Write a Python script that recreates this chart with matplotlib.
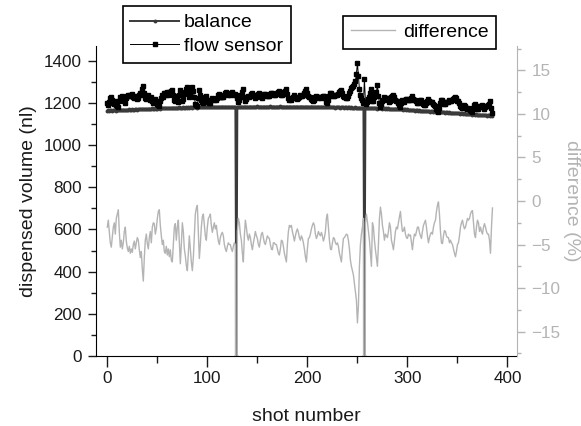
import numpy as np
import matplotlib
matplotlib.use("Agg")
import matplotlib.pyplot as plt
from matplotlib.ticker import MultipleLocator

plt.rcParams['font.family'] = ['Liberation Sans', 'DejaVu Sans']

# balance (nl), one value per shot; 0 where a reading was lost
balance = [
    1163, 1165, 1164, 1166, 1165, 1163, 1166, 1167, 1165, 1164, 1166, 1168, 1166, 1165, 1167, 1166, 1168, 1167, 1165, 1167,
    1168, 1166, 1169, 1167, 1168, 1170, 1168, 1167, 1169, 1170, 1168, 1170, 1171, 1169, 1170, 1172, 1170, 1169, 1171, 1172,
    1170, 1172, 1173, 1171, 1172, 1174, 1172, 1173, 1175, 1173, 1172, 1174, 1175, 1173, 1175, 1176, 1174, 1175, 1177, 1175,
    1176, 1174, 1177, 1176, 1175, 1177, 1178, 1176, 1177, 1178, 1176, 1178, 1179, 1177, 1178, 1177, 1179, 1178, 1176, 1179,
    1178, 1180, 1178, 1179, 1180, 1178, 1179, 1181, 1179, 1180, 1178, 1180, 1181, 1179, 1180, 1182, 1180, 1179, 1181, 1180,
    1179, 1181, 1180, 1182, 1180, 1179, 1181, 1182, 1180, 1181, 1179, 1181, 1182, 1180, 1181, 1183, 1181, 1180, 1182, 1181,
    1180, 1182, 1181, 1179, 1181, 1182, 1180, 1181, 1182, 0, 1181, 1180, 1182, 1181, 1183, 1181, 1180, 1182, 1183, 1181,
    1182, 1180, 1181, 1183, 1182, 1180, 1182, 1183, 1181, 1182, 1184, 1182, 1181, 1183, 1182, 1180, 1182, 1183, 1181, 1182,
    1183, 1181, 1182, 1184, 1182, 1181, 1183, 1182, 1180, 1182, 1183, 1181, 1182, 1184, 1182, 1181, 1183, 1182, 1180, 1182,
    1183, 1181, 1182, 1183, 1181, 1180, 1182, 1183, 1181, 1182, 1183, 1181, 1180, 1182, 1183, 1181, 1182, 1180, 1181, 1183,
    1181, 1182, 1180, 1181, 1183, 1182, 1180, 1181, 1182, 1180, 1181, 1183, 1181, 1180, 1182, 1181, 1179, 1181, 1182, 1180,
    1181, 1179, 1180, 1182, 1180, 1179, 1181, 1180, 1178, 1180, 1181, 1179, 1180, 1178, 1179, 1181, 1179, 1178, 1180, 1179,
    1178, 1180, 1179, 1177, 1179, 1178, 1176, 1178, 1179, 1177, 1178, 1176, 1178, 1177, 1175, 1177, 1178, 0, 1176, 1177,
    1175, 1177, 1176, 1174, 1176, 1177, 1175, 1174, 1176, 1175, 1173, 1175, 1176, 1174, 1175, 1173, 1174, 1175, 1173, 1174,
    1172, 1174, 1173, 1171, 1173, 1172, 1170, 1172, 1173, 1171, 1170, 1172, 1170, 1169, 1171, 1170, 1168, 1170, 1169, 1167,
    1169, 1168, 1166, 1168, 1167, 1165, 1167, 1166, 1164, 1166, 1165, 1163, 1165, 1164, 1162, 1164, 1163, 1161, 1163, 1162,
    1160, 1162, 1161, 1159, 1161, 1160, 1158, 1160, 1159, 1157, 1159, 1158, 1156, 1158, 1157, 1155, 1157, 1156, 1154, 1156,
    1155, 1153, 1155, 1154, 1152, 1154, 1153, 1151, 1153, 1152, 1150, 1152, 1151, 1149, 1151, 1150, 1148, 1150, 1149, 1147,
    1149, 1148, 1146, 1148, 1147, 1145, 1147, 1146, 1144, 1146, 1145, 1143, 1145, 1144, 1142, 1144, 1143, 1141, 1143, 1142,
    1140, 1142, 1141, 1139, 1141, 1140,
]

# flow sensor (nl)
flow_sensor = [
    1199, 1191, 1206, 1224, 1229, 1213, 1202, 1197, 1211, 1188, 1184, 1180, 1208, 1229, 1221, 1232, 1226, 1209, 1201, 1222,
    1233, 1236, 1231, 1239, 1234, 1241, 1228, 1222, 1235, 1228, 1218, 1224, 1238, 1247, 1240, 1266, 1280, 1247, 1225, 1218,
    1229, 1238, 1223, 1213, 1230, 1210, 1202, 1204, 1221, 1211, 1196, 1188, 1187, 1207, 1223, 1236, 1228, 1245, 1249, 1237,
    1250, 1240, 1254, 1243, 1257, 1261, 1238, 1212, 1208, 1232, 1212, 1204, 1237, 1263, 1238, 1207, 1221, 1244, 1252, 1268,
    1274, 1252, 1226, 1245, 1264, 1274, 1257, 1229, 1197, 1190, 1184, 1222, 1260, 1239, 1216, 1204, 1198, 1213, 1229, 1234,
    1215, 1205, 1202, 1200, 1214, 1222, 1217, 1212, 1218, 1215, 1225, 1236, 1242, 1230, 1227, 1226, 1229, 1240, 1248, 1251,
    1242, 1240, 1241, 1239, 1247, 1252, 1242, 1239, 1242, 1240, 1223, 1204, 1212, 1227, 1237, 1253, 1264, 1230, 1209, 1217,
    1230, 1234, 1227, 1233, 1242, 1247, 1240, 1233, 1223, 1230, 1236, 1242, 1245, 1237, 1228, 1223, 1232, 1241, 1241, 1236,
    1231, 1231, 1234, 1244, 1248, 1248, 1241, 1240, 1240, 1242, 1249, 1253, 1256, 1250, 1236, 1236, 1245, 1254, 1258, 1266,
    1243, 1223, 1216, 1219, 1215, 1222, 1230, 1238, 1229, 1224, 1221, 1224, 1230, 1236, 1231, 1233, 1240, 1246, 1258, 1267,
    1247, 1234, 1230, 1227, 1221, 1216, 1210, 1215, 1228, 1232, 1229, 1225, 1227, 1228, 1225, 1229, 1234, 1231, 1224, 1204,
    1199, 1215, 1234, 1248, 1247, 1237, 1231, 1232, 1236, 1240, 1239, 1241, 1252, 1256, 1263, 1247, 1231, 1228, 1228, 1225,
    1225, 1234, 1245, 1259, 1269, 1274, 1278, 1292, 1305, 1338, 1390, 1330, 1265, 1237, 1222, 1213, 1200, 1315, 1206, 1195,
    1204, 1219, 1230, 1246, 1266, 1207, 1211, 1228, 1243, 1253, 1285, 1235, 1200, 1182, 1193, 1207, 1216, 1229, 1219, 1222,
    1222, 1216, 1203, 1207, 1227, 1232, 1237, 1226, 1215, 1207, 1208, 1202, 1192, 1183, 1201, 1212, 1209, 1206, 1215, 1217,
    1221, 1214, 1214, 1215, 1225, 1232, 1221, 1212, 1212, 1208, 1201, 1199, 1208, 1212, 1214, 1206, 1197, 1191, 1189, 1198,
    1208, 1220, 1211, 1205, 1204, 1206, 1194, 1190, 1185, 1171, 1165, 1159, 1174, 1200, 1215, 1214, 1205, 1197, 1196, 1204,
    1205, 1203, 1213, 1208, 1210, 1214, 1219, 1223, 1230, 1222, 1210, 1210, 1199, 1185, 1181, 1176, 1182, 1188, 1185, 1177,
    1173, 1174, 1170, 1166, 1161, 1158, 1177, 1192, 1194, 1182, 1171, 1173, 1187, 1180, 1184, 1190, 1179, 1172, 1179, 1184,
    1186, 1188, 1195, 1211, 1177, 1150,
]

# difference (%), balance vs flow sensor
difference = [
    -3.0, -2.2, -3.5, -4.8, -5.3, -4.2, -3.0, -2.5, -3.8, -2.0, -1.5, -1.0, -3.5, -5.3, -4.5, -5.5, -4.8, -3.5, -3.0, -4.6,
    -5.4, -5.8, -5.2, -6.0, -5.5, -5.9, -5.0, -4.6, -5.5, -4.8, -4.2, -4.5, -5.6, -6.5, -5.8, -7.8, -9.2, -6.5, -4.5, -3.8,
    -4.9, -5.5, -4.2, -3.5, -4.8, -3.0, -2.5, -2.6, -3.8, -3.2, -2.0, -1.2, -1.0, -2.8, -4.0, -5.0, -4.5, -5.8, -6.0, -5.2,
    -6.2, -5.5, -6.4, -5.6, -6.8, -7.0, -5.0, -3.0, -2.6, -4.5, -3.0, -2.2, -4.8, -7.2, -5.0, -2.5, -3.5, -5.5, -6.3, -7.4,
    -8.0, -6.0, -4.0, -5.5, -7.0, -8.0, -6.5, -4.0, -1.5, -0.8, -0.5, -3.5, -6.6, -5.0, -3.0, -1.8, -1.5, -2.8, -4.0, -4.5,
    -3.0, -2.0, -1.8, -1.5, -2.8, -3.6, -3.0, -2.5, -3.2, -2.8, -3.8, -4.6, -5.0, -4.2, -3.8, -3.6, -4.0, -5.0, -5.5, -5.8,
    -5.2, -4.8, -5.0, -5.0, -5.5, -5.8, -5.2, -4.8, -5.0, -100, -3.5, -2.0, -2.5, -3.8, -4.5, -6.0, -7.0, -4.0, -2.2, -3.0,
    -4.0, -4.5, -3.8, -4.2, -5.0, -5.6, -4.8, -4.2, -3.5, -4.0, -4.3, -5.0, -5.3, -4.5, -3.8, -3.6, -4.2, -4.8, -5.0, -4.5,
    -4.0, -4.2, -4.3, -5.0, -5.5, -5.6, -4.8, -4.8, -5.0, -5.0, -5.5, -6.0, -6.2, -5.5, -4.5, -4.6, -5.2, -6.0, -6.5, -7.0,
    -5.0, -3.5, -2.8, -3.0, -2.8, -3.5, -4.0, -4.6, -4.0, -3.5, -3.2, -3.6, -4.2, -4.5, -4.0, -4.3, -4.8, -5.5, -6.4, -7.0,
    -5.5, -4.3, -4.2, -3.8, -3.2, -2.8, -2.5, -2.8, -3.8, -4.3, -4.0, -3.5, -3.8, -4.0, -3.6, -4.0, -4.6, -4.2, -3.5, -2.0,
    -1.5, -3.0, -4.5, -5.5, -5.6, -4.8, -4.2, -4.3, -4.8, -5.0, -4.8, -5.2, -6.0, -6.5, -7.0, -5.5, -4.3, -4.2, -4.0, -3.8,
    -3.9, -4.5, -5.5, -6.8, -7.5, -8.0, -8.5, -9.5, -10.5, -11.4, -14.0, -12.0, -7.5, -5.0, -3.8, -3.0, -2.0, -100, -2.5, -1.5,
    -2.4, -3.5, -4.5, -6.0, -7.5, -2.5, -3.0, -4.5, -5.6, -6.5, -7.5, -5.0, -2.0, -0.7, -1.5, -2.8, -3.5, -4.5, -3.8, -4.0,
    -4.2, -3.5, -2.5, -3.0, -4.5, -5.0, -5.6, -4.5, -3.5, -3.0, -3.2, -2.5, -1.8, -1.2, -2.5, -3.5, -3.4, -3.0, -3.8, -4.2,
    -4.3, -3.8, -4.0, -3.9, -4.8, -5.6, -4.5, -3.8, -4.0, -3.5, -3.0, -3.0, -3.6, -4.0, -4.3, -3.5, -2.8, -2.5, -2.2, -3.0,
    -4.0, -4.8, -4.2, -3.8, -3.6, -3.8, -3.0, -2.5, -2.2, -1.2, -0.5, -0.1, -1.5, -3.5, -4.8, -4.9, -4.0, -3.4, -3.5, -4.0,
    -4.2, -4.2, -4.8, -4.5, -4.8, -5.0, -5.5, -6.0, -6.4, -5.8, -5.0, -4.8, -4.0, -3.0, -2.5, -2.2, -2.8, -3.2, -3.0, -2.5,
    -2.0, -2.2, -2.0, -1.5, -1.2, -1.1, -2.5, -3.8, -4.2, -3.0, -2.2, -2.5, -3.5, -3.0, -3.5, -3.8, -3.0, -2.6, -3.0, -3.5,
    -3.8, -3.8, -4.5, -6.0, -3.0, -0.8,
]

shots = np.arange(len(balance))

grey = '#b4b4b4'
ink = '#1a1a1a'
fig = plt.figure(figsize=(5.81, 4.26), dpi=100)
ax = fig.add_axes([0.1647, 0.1643, 0.7260, 0.7277])
ax2 = ax.twinx()

ax.plot(shots, balance, color='#3a3a3a', lw=1.4, marker='o', ms=1.8, label='balance')
ax.plot(shots, flow_sensor, color='black', lw=0.7, marker='s', ms=3.1, label='flow sensor')
ax2.plot(shots, difference, color=grey, lw=1.0, label='difference')

ax.set_xlim(-11.6, 410)
ax.set_ylim(0, 1470)
ax2.set_ylim(-17.8, 17.8)

ax.xaxis.set_major_locator(MultipleLocator(100))
ax.xaxis.set_minor_locator(MultipleLocator(50))
ax.yaxis.set_major_locator(MultipleLocator(200))
ax.yaxis.set_minor_locator(MultipleLocator(100))
ax2.yaxis.set_major_locator(MultipleLocator(5))
ax2.yaxis.set_minor_locator(MultipleLocator(2.5))

for a in (ax, ax2):
    a.spines['top'].set_visible(False)
ax.spines['right'].set_visible(False)
ax2.spines['left'].set_visible(False)
ax2.spines['bottom'].set_visible(False)
ax2.spines['right'].set_color(grey)

ax.tick_params(axis='x', which='major', direction='out', length=8, width=1, labelsize=12.3, pad=3, colors=ink)
ax.tick_params(axis='x', which='minor', direction='out', length=4.8, width=1, colors=ink)
ax.tick_params(axis='y', which='major', direction='out', length=5.8, width=1, labelsize=12.3, pad=4, colors=ink)
ax.tick_params(axis='y', which='minor', direction='out', length=3.6, width=1, colors=ink)
ax2.tick_params(which='major', direction='out', length=5.5, width=1, labelsize=12.3, pad=4.5, colors=grey)
ax2.tick_params(which='minor', direction='out', length=3.1, width=1, colors=grey)

ax.set_xlabel('shot number', fontsize=14, color=ink)
ax.set_ylabel('dispensed volume (nl)', fontsize=14, color=ink)
ax2.set_ylabel('difference (%)', fontsize=14, color=grey, rotation=270)
ax.xaxis.set_label_coords(0.5, -0.168)
ax.yaxis.set_label_coords(-0.139, 0.5)
ax2.yaxis.set_label_coords(1.148, 0.5)

leg1 = fig.legend(handles=ax.get_lines(), loc='upper left', bbox_to_anchor=(0.211, 0.986),
                  borderaxespad=0, fontsize=14, fancybox=False, edgecolor='black', framealpha=1,
                  handlelength=2.5, handletextpad=0.25, labelspacing=0.3, borderpad=0.4)
leg1.get_frame().set_linewidth(1.2)
leg2 = fig.legend(handles=ax2.get_lines(), loc='upper left', bbox_to_anchor=(0.590, 0.963),
                  borderaxespad=0, fontsize=14, fancybox=False, edgecolor='black', framealpha=1,
                  handlelength=2.3, handletextpad=0.4, borderpad=0.4)
leg2.get_frame().set_linewidth(1.2)

fig.savefig('out.png', dpi=100)
